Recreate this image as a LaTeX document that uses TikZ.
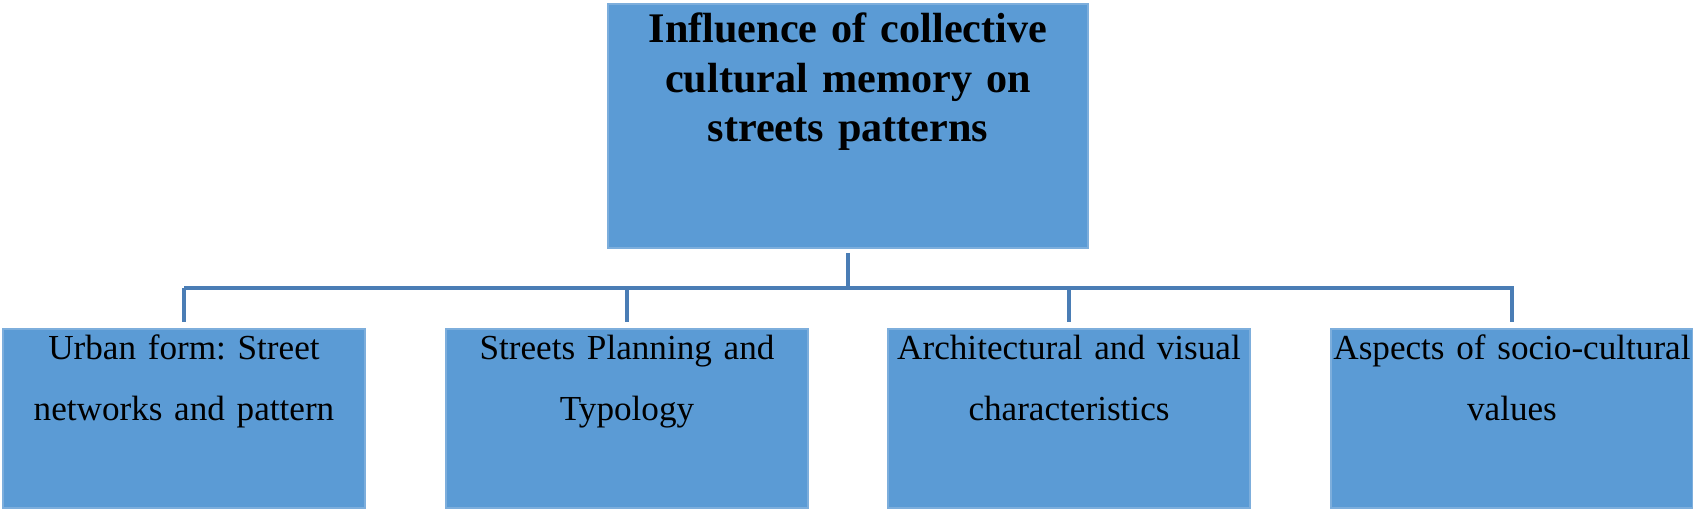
\documentclass[tikz,border=0pt]{standalone}
\usepackage{fontspec}
\setmainfont{Liberation Serif}
\usepackage{tikz}
\usetikzlibrary{positioning, calc}

\definecolor{boxblue}{HTML}{5B9BD5}
\definecolor{boxedge}{HTML}{7DAEDC}
\definecolor{linkblue}{HTML}{4A7DB5}
\frenchspacing

\begin{document}
\begin{tikzpicture}[
    topbox/.style={draw=boxedge, line width=0.5pt, fill=boxblue, minimum width=4.80cm, minimum height=2.44cm, inner sep=0pt},
    subbox/.style={draw=boxedge, line width=0.5pt, fill=boxblue, minimum width=3.62cm, minimum height=1.79cm, inner sep=0pt},
    toptext/.style={anchor=base, inner sep=0pt, text width=4.6cm, align=center, font=\fontsize{12}{14.2}\selectfont\bfseries},
    subtext/.style={anchor=base, inner sep=0pt, text width=3.6cm, align=center, font=\fontsize{10}{17.6}\selectfont},
    link/.style={draw=linkblue, line width=1pt}
  ]
    \useasboundingbox (0,0) rectangle (16.93,5.12);

    % Main topic
    \node[topbox] (memory) at (8.48, 3.86) {};
    \node[toptext] (memory_txt) at ([yshift=-11.1pt]memory.north) {Influence of collective\\ cultural memory on\\ streets patterns};

    % Aspects
    \node[subbox] (form) at (1.84, 0.935) {};
    \node[subtext] (form_txt) at ([yshift=-8.8pt]form.north) {Urban form: Street\\ networks and pattern};

    \node[subbox] (planning) at (6.27, 0.935) {};
    \node[subtext] (planning_txt) at ([yshift=-8.8pt]planning.north) {Streets Planning and\\ Typology};

    \node[subbox] (visual) at (10.69, 0.935) {};
    \node[subtext] (visual_txt) at ([yshift=-8.8pt]visual.north) {Architectural and visual\\ characteristics};

    \node[subbox] (values) at (15.12, 0.935) {};
    \node[subtext] (values_txt) at ([yshift=-8.8pt]values.north) {Aspects of socio-cultural\\ values};

    % Connections
    \coordinate (bus) at (8.48, 2.24);
    \draw[link, shorten <=0.04cm] (memory.south) -- (memory.south |- bus);
    \draw[link, shorten >=0.06cm] (form.north |- bus) -- (values.north |- bus) -- (values.north);
    \draw[link, shorten >=0.06cm] (form.north |- bus) -- (form.north);
    \draw[link, shorten >=0.06cm] (planning.north |- bus) -- (planning.north);
    \draw[link, shorten >=0.06cm] (visual.north |- bus) -- (visual.north);
\end{tikzpicture}
\end{document}
